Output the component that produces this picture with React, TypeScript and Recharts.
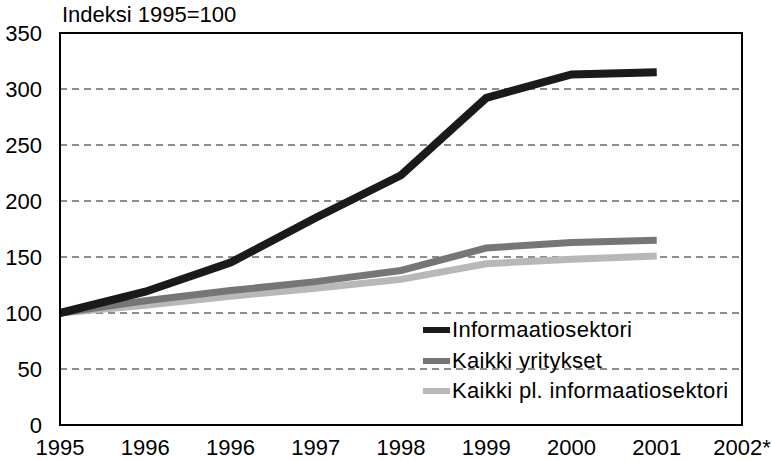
import React from 'react';
import { LineChart, Line, XAxis, YAxis, CartesianGrid, ReferenceArea } from 'recharts';

const xLabels = ['1995', '1996', '1996', '1997', '1998', '1999', '2000', '2001', '2002*'];
const informaatiosektori = [100, 119, 145, 185, 223, 292, 313, 315];
const kaikkiYritykset = [100, 111, 120, 128, 138, 158, 163, 165];
const kaikkiPlInformaatiosektori = [100, 107, 115, 122, 130, 144, 148, 151];
const yTicks = [0, 50, 100, 150, 200, 250, 300, 350];
const seriesNames = ['Informaatiosektori', 'Kaikki yritykset', 'Kaikki pl. informaatiosektori'];
const seriesColors = ['#1a1a1a', '#767676', '#b8b8b8'];
const titleText = 'Indeksi 1995=100';

const xTicks = xLabels.map((_, i) => i);
const data = xLabels.map((_, i) => ({
  idx: i,
  info: i < informaatiosektori.length ? informaatiosektori[i] : null,
  kaikki: i < kaikkiYritykset.length ? kaikkiYritykset[i] : null,
  pl: i < kaikkiPlInformaatiosektori.length ? kaikkiPlInformaatiosektori[i] : null,
}));

const FONT = '"Liberation Sans", Arial, sans-serif';

export default function App() {
  return (
    <div style={{ position: 'absolute', left: 0, top: 0, width: 772, height: 460, background: '#fff', fontFamily: FONT }}>
      <LineChart width={772} height={460} data={data} margin={{ top: 33, right: 30, bottom: 0, left: 0 }}>
        <CartesianGrid vertical={false} horizontal stroke="#1a1a1a" strokeWidth={1.2} strokeDasharray="7 5" horizontalValues={[50, 100, 150, 200, 250, 300]} />
        <XAxis
          dataKey="idx"
          type="number"
          domain={[0, 8]}
          ticks={xTicks}
          interval={0}
          tickFormatter={(v: number) => xLabels[v]}
          tickLine={false}
          tickSize={0}
          tickMargin={14}
          height={35}
          axisLine={{ stroke: '#000', strokeWidth: 2 }}
          tick={{ fill: '#000', fontSize: 22, fontFamily: FONT }}
        />
        <YAxis
          type="number"
          domain={[0, 350]}
          ticks={yTicks}
          interval={0}
          width={60}
          tickLine={false}
          tickSize={0}
          tickMargin={18}
          axisLine={{ stroke: '#000', strokeWidth: 2 }}
          tick={{ fill: '#000', fontSize: 22, fontFamily: FONT }}
        />
        <ReferenceArea x1={0} x2={8} y1={0} y2={350} fill="none" stroke="#000" strokeWidth={2} />
        <Line type="linear" dataKey="pl" stroke={seriesColors[2]} strokeWidth={7} dot={false} isAnimationActive={false} connectNulls={false} />
        <Line type="linear" dataKey="kaikki" stroke={seriesColors[1]} strokeWidth={7} dot={false} isAnimationActive={false} connectNulls={false} />
        <Line type="linear" dataKey="info" stroke={seriesColors[0]} strokeWidth={8} dot={false} isAnimationActive={false} connectNulls={false} />
      </LineChart>
      <div style={{ position: 'absolute', left: 62, top: 4, fontSize: 22, lineHeight: '22px', color: '#000', whiteSpace: 'nowrap' }}>
        {titleText}
      </div>
      <div style={{ position: 'absolute', left: 423, top: 315 }}>
        {seriesNames.map((name, i) => (
          <div key={name} style={{ display: 'flex', alignItems: 'center', height: 30.5, fontSize: 22, letterSpacing: 0.3, color: '#000', whiteSpace: 'nowrap' }}>
            <span style={{ display: 'inline-block', width: 27, height: 6, background: seriesColors[i], marginRight: 2 }} />
            <span>{name}</span>
          </div>
        ))}
      </div>
    </div>
  );
}
